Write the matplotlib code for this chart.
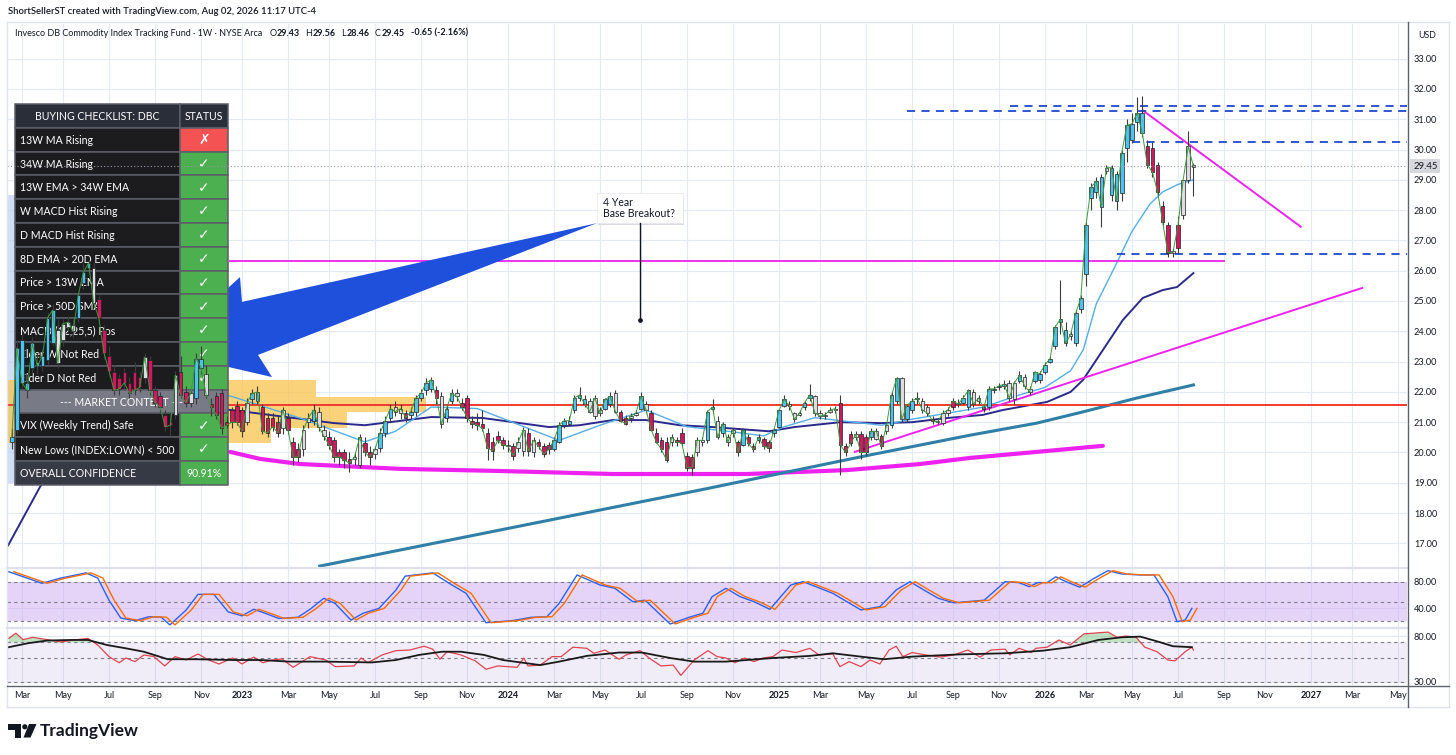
import numpy as np
import pandas as pd
import matplotlib
matplotlib.use('Agg')
import matplotlib.pyplot as plt
from matplotlib import transforms
from matplotlib.patches import Rectangle, Polygon, Circle
from matplotlib.lines import Line2D
from matplotlib.ticker import NullLocator, NullFormatter

plt.rcParams['font.family'] = ['Lato', 'DejaVu Sans']

#%% weekly candles (week 0 = Mon 2023-01-02)
first_week = -45
opens = [
    # 2022
    20.35, 20.75, 23.7, 22.3, 22.8, 23.0, 22.85, 23.05, 23.6, 24.05, 23.7, 24.15, 24.2, 24.45, 25.6,
    26.1, 26.1, 25.05, 24.05, 23.2, 22.65, 22.45, 22.65, 22.3, 22.65, 22.5, 22.45, 23.05, 22.05, 21.85,
    21.25, 21.0, 21.25, 22.65, 22.0, 21.65, 21.8, 23.1, 22.6, 21.6, 21.85, 21.95, 21.0, 21.4, 21.55,
    # 2023
    21.4, 21.0, 21.75, 21.7, 21.5, 21.15, 21.15, 21.0, 20.8, 21.15, 20.35, 20.1, 20.1, 21.0, 21.05,
    21.35, 20.75, 20.5, 20.4, 20.0, 20.0, 19.8, 19.8, 19.6, 20.3, 20.0, 19.95, 20.15, 20.65, 21.15,
    21.5, 21.3, 21.3, 21.25, 21.35, 21.8, 22.05, 22.1, 22.05, 21.85, 21.15, 21.7, 21.95, 21.65, 21.8,
    21.05, 21.0, 20.95, 20.65, 20.35, 20.55, 20.4,
    # 2024
    20.25, 20.2, 20.15, 20.05, 20.65, 20.0, 20.35, 20.2, 20.25, 20.1, 20.35, 20.9, 20.95, 21.4, 21.8,
    21.75, 21.7, 21.2, 21.4, 21.45, 21.6, 21.95, 21.35, 21.15, 21.15, 21.25, 21.45, 21.6, 21.3, 20.65,
    20.4, 20.35, 20.35, 20.4, 20.65, 19.9, 19.85, 20.0, 20.35, 20.4, 21.45, 21.05, 20.65, 20.5, 20.65,
    20.35, 20.25, 20.5, 20.2, 20.4, 20.45, 20.35,
    # 2025
    20.65, 20.85, 21.55, 21.6, 21.3, 21.25, 21.5, 21.8, 21.85, 21.3, 21.2, 21.35, 21.4, 21.65, 20.2,
    20.6, 20.5, 20.6, 20.5, 20.5, 20.45, 20.55, 20.7, 20.9, 21.7, 22.45, 21.1, 21.4, 21.75, 21.7,
    21.5, 21.1, 21.05, 20.97, 21.3, 21.5, 21.6, 21.65, 21.5, 22.0, 21.7, 21.5, 21.5, 22.05, 22.15,
    22.2, 22.3, 21.75, 22.35, 22.5, 22.1, 22.35,
    # 2026
    22.4, 22.65, 23.0, 23.5, 24.3, 24.05, 23.85, 23.6, 24.75, 25.9, 28.4, 28.6, 29.1, 29.3, 28.5,
    29.2, 28.55, 30.05, 30.3, 30.9, 31.2, 30.1, 30.05, 29.5, 28.15, 27.5, 26.6, 26.75, 27.85, 29.0,
    29.43,
]
highs = [
    # 2022
    20.8, 23.7, 23.9, 22.6, 23.8, 23.3, 23.4, 24.6, 24.9, 24.4, 24.4, 24.5, 24.4, 25.3, 26.25,
    26.35, 26.3, 25.2, 24.2, 23.5, 22.9, 22.6, 22.8, 22.5, 23.0, 22.7, 23.3, 23.2, 22.2, 22.0,
    21.4, 21.3, 22.7, 23.2, 22.2, 22.1, 23.3, 23.5, 22.9, 21.8, 22.0, 22.1, 21.2, 21.5, 21.7,
    # 2023
    21.5, 21.8, 22.1, 22.2, 21.6, 21.3, 21.3, 21.2, 21.5, 21.3, 20.5, 20.3, 20.9, 21.3, 21.6,
    21.5, 20.9, 20.7, 20.5, 20.1, 20.1, 20.0, 20.0, 20.6, 20.5, 20.2, 20.2, 20.8, 21.2, 21.6,
    21.7, 21.6, 21.4, 21.5, 21.9, 22.1, 22.45, 22.5, 22.2, 22.0, 21.6, 22.1, 22.1, 21.8, 21.9,
    21.2, 21.3, 21.4, 20.8, 20.5, 20.7, 20.5,
    # 2024
    20.4, 20.3, 20.5, 20.85, 20.8, 20.5, 20.45, 20.3, 20.35, 20.5, 21.0, 21.15, 21.2, 21.9, 22.15,
    21.9, 21.8, 21.9, 21.5, 21.8, 22.0, 22.05, 21.4, 21.25, 21.3, 21.4, 22.0, 21.7, 21.4, 20.8,
    20.5, 20.5, 20.6, 20.5, 20.8, 20.0, 19.95, 20.5, 20.5, 21.4, 21.75, 21.2, 21.0, 20.6, 20.8,
    20.4, 20.8, 20.6, 20.3, 20.6, 20.5, 20.4,
    # 2025
    20.8, 21.45, 21.9, 21.7, 21.35, 21.4, 21.7, 22.25, 21.9, 21.4, 21.35, 21.5, 21.55, 21.9, 20.3,
    20.7, 20.7, 20.7, 20.6, 20.8, 20.8, 20.6, 21.0, 22.0, 22.5, 22.5, 21.6, 21.8, 22.0, 21.8,
    21.6, 21.2, 21.15, 21.4, 21.5, 21.8, 21.75, 21.9, 22.1, 22.1, 21.9, 21.6, 22.2, 22.2, 22.3,
    22.4, 22.4, 22.35, 22.7, 22.6, 22.2, 22.7,
    # 2026
    22.7, 23.0, 23.2, 24.2, 25.7, 24.3, 24.0, 24.7, 25.2, 27.6, 28.9, 29.1, 29.2, 29.5, 29.5,
    29.3, 30.0, 31.0, 31.2, 31.73, 31.76, 30.3, 30.25, 29.6, 28.3, 27.6, 26.75, 27.8, 29.0, 30.6,
    29.56,
]
lows = [
    # 2022
    20.1, 20.6, 22.1, 21.8, 22.6, 22.6, 22.7, 22.9, 23.5, 22.8, 23.5, 24.0, 23.8, 24.3, 25.4,
    25.9, 24.8, 24.3, 23.1, 22.5, 21.9, 21.9, 22.1, 21.8, 21.9, 22.0, 22.3, 21.9, 21.5, 21.3,
    20.7, 20.55, 21.1, 21.8, 21.5, 21.5, 21.6, 22.6, 21.8, 21.2, 21.1, 20.6, 20.8, 20.8, 20.9,
    # 2023
    20.5, 20.9, 21.6, 21.6, 20.6, 20.5, 20.7, 20.5, 20.6, 20.6, 19.6, 19.7, 19.9, 20.8, 20.9,
    20.7, 20.4, 20.1, 19.7, 19.6, 19.5, 19.35, 19.6, 19.5, 19.9, 19.6, 19.8, 20.0, 20.5, 21.0,
    21.2, 21.1, 21.0, 21.1, 21.2, 21.7, 21.9, 22.0, 21.6, 20.8, 21.0, 21.6, 21.7, 21.4, 21.0,
    20.8, 20.75, 20.7, 19.75, 19.75, 20.3, 20.1,
    # 2024
    20.0, 19.75, 20.0, 19.9, 19.9, 19.85, 20.1, 19.85, 19.95, 20.05, 20.3, 20.8, 20.9, 21.3, 21.7,
    21.5, 21.3, 21.1, 21.2, 21.4, 21.5, 21.3, 21.0, 20.9, 21.0, 21.2, 21.4, 21.3, 20.7, 20.3,
    20.0, 19.7, 20.2, 20.2, 20.2, 19.4, 19.25, 19.9, 20.2, 20.3, 21.3, 20.45, 20.5, 20.2, 20.5,
    19.9, 20.2, 20.2, 20.0, 20.3, 20.1, 20.0,
    # 2025
    20.5, 20.8, 21.5, 21.4, 21.0, 21.2, 21.4, 21.7, 21.2, 21.1, 21.1, 21.3, 21.3, 19.25, 19.9,
    20.2, 20.4, 19.8, 19.9, 20.4, 20.4, 20.1, 20.6, 20.8, 21.6, 21.0, 21.0, 21.3, 21.6, 21.3,
    21.2, 20.95, 20.95, 20.9, 21.2, 21.4, 21.5, 21.6, 21.4, 21.5, 21.6, 21.35, 21.4, 21.95, 22.05,
    22.1, 21.7, 21.6, 22.3, 22.1, 21.9, 22.3,
    # 2026
    22.3, 22.6, 22.95, 23.4, 23.9, 23.5, 23.7, 23.5, 24.6, 25.5, 28.0, 28.4, 27.45, 29.2, 28.3,
    28.0, 28.3, 29.6, 30.2, 30.6, 30.4, 29.4, 29.1, 28.5, 27.5, 26.45, 26.45, 26.6, 27.7, 28.9,
    28.46,
]
closes = [
    # 2022
    20.5, 23.45, 22.3, 22.05, 23.6, 22.85, 23.2, 24.45, 24.7, 22.95, 24.25, 24.3, 24.0, 25.2, 25.95,
    26.25, 24.95, 24.45, 23.3, 22.7, 22.05, 22.1, 22.3, 21.95, 22.05, 22.15, 23.15, 22.05, 21.65, 21.5,
    20.85, 20.9, 22.55, 21.9, 21.65, 21.95, 23.1, 22.8, 21.9, 21.5, 21.25, 20.8, 20.9, 21.0, 21.0,
    # 2023
    20.7, 21.65, 21.95, 22.0, 20.7, 20.65, 20.85, 20.65, 21.4, 20.75, 19.85, 19.85, 20.75, 21.15, 21.4,
    20.85, 20.55, 20.25, 19.85, 19.85, 19.75, 19.65, 19.85, 20.5, 20.0, 19.85, 20.1, 20.65, 21.05, 21.45,
    21.35, 21.45, 21.15, 21.35, 21.8, 21.95, 22.3, 22.4, 21.8, 20.95, 21.45, 21.95, 21.85, 21.5, 21.15,
    20.95, 20.9, 20.8, 20.15, 20.05, 20.4, 20.25,
    # 2024
    20.2, 19.9, 20.35, 20.75, 20.05, 20.4, 20.2, 19.95, 20.1, 20.4, 20.9, 21.05, 21.05, 21.8, 21.9,
    21.6, 21.35, 21.8, 21.3, 21.75, 21.85, 21.35, 21.05, 20.95, 21.2, 21.3, 21.85, 21.4, 20.75, 20.35,
    20.1, 19.75, 20.5, 20.35, 20.3, 19.5, 19.5, 20.4, 20.4, 21.35, 21.5, 20.5, 20.95, 20.35, 20.75,
    20.0, 20.75, 20.3, 20.1, 20.5, 20.2, 20.15,
    # 2025
    20.75, 21.4, 21.75, 21.55, 21.1, 21.3, 21.65, 21.9, 21.3, 21.2, 21.25, 21.4, 21.45, 20.25, 20.0,
    20.3, 20.6, 20.0, 20.0, 20.7, 20.7, 20.2, 20.9, 21.9, 22.45, 21.1, 21.55, 21.7, 21.8, 21.4,
    21.3, 21.05, 21.0, 21.3, 21.4, 21.7, 21.6, 21.8, 22.05, 21.6, 21.8, 21.45, 22.1, 22.1, 22.2,
    22.25, 21.8, 22.3, 22.55, 22.2, 22.0, 22.65,
    # 2026
    22.6, 22.9, 23.1, 24.15, 24.4, 23.6, 23.9, 24.6, 25.1, 27.5, 28.75, 28.95, 28.1, 29.4, 29.4,
    28.3, 29.9, 30.8, 30.85, 31.2, 30.55, 29.5, 29.25, 28.6, 27.6, 26.6, 26.6, 27.5, 29.0, 30.1,
    29.45,
]
# impulse colour of each candle: c = cyan, m = magenta, w = neutral
impulse = ("ccccccccc" "wwww" "ccc" "w" "mmmmmmmmm" "w" "mmmmm" "w" "mm" "w" "cc" "w" "mmmmmm"
           "mwccmmmmwm" "mmwwcwwmmm" "mmwwmmwccc" "wwmcccccmw" "ccwmmmmmmm" "mm"
           "wmwwmwmmmc" "ccccccwwwc" "cwmmwwcwmm" "mmwmmmmwwc" "cwcwwmcmmc" "mm"
           "cccwwwccww" "wwwmmmwmmc" "wmwccwcccw" "wmwwwmwccw" "wmccccwwcw" "wc"
           "ccccccwccc" "cccwcccccc" "cmmmmmwmww" "w")

#%% moving averages (week, price)
fast_ma_w = [-6, -2, 12, 24, 30, 37, 46, 62, 70, 79, 87, 95, 102, 106, 112, 117, 125, 131, 138, 145,
             152, 157, 162, 164.5, 167, 171, 174, 177.5, 180, 183, 186]
fast_ma = [22.0, 21.85, 21.1, 20.35, 20.7, 21.5, 21.45, 20.4, 20.9, 21.4, 20.85, 20.7, 20.55, 20.85,
           21.15, 21.05, 20.9, 21.1, 21.3, 21.5, 21.9, 22.15, 22.7, 23.4, 24.9, 26.25, 27.3, 28.2,
           28.6, 28.85, 29.0]
slow_ma_w = [-45.7, -39.5, -35, -28, -15, -2, 18, 24, 37, 47, 60, 66, 72.5, 79, 85.6, 92, 103, 108,
             117, 125, 131, 138, 144.8, 148.7, 157.4, 162, 164.4, 168.3, 172.2, 176.1, 180, 182.8, 186]
slow_ma = [16.94, 18.86, 20.0, 21.0, 21.6, 21.4, 20.97, 20.9, 21.17, 21.14, 20.84, 20.9, 21.07, 21.07,
           20.9, 20.84, 20.7, 20.84, 21.0, 20.97, 21.0, 21.14, 21.24, 21.4, 21.67, 22.0, 22.39, 23.38,
           24.37, 25.1, 25.36, 25.46, 25.92]
long_ma_w = [15.2, 50.4, 89.5, 122.8, 142.3, 155.4, 164.4, 175, 186]
long_ma = [16.25, 17.44, 18.76, 19.92, 20.57, 20.97, 21.34, 21.8, 22.23]

# drawn base curve
cup_w = [-2.3, 3.5, 11.3, 30.9, 50.4, 72.5, 98.7, 118.3, 132.6, 142.3, 155.4, 168.3]
cup = [20.02, 19.79, 19.62, 19.46, 19.39, 19.29, 19.29, 19.42, 19.62, 19.82, 20.02, 20.22]

# visible range volume profile rows (price low, price high, length in weeks)
vp_low = [21.83, 21.33, 20.81, 20.31]
vp_high = [22.39, 21.83, 21.33, 20.81]
vp_len = [60.4, 81.9, 66.4, 51.6]

#%% Stoch RSI %K
stoch_w = [-45.6, -39.1, -35.6, -30.5, -28.2, -26, -23.7, -20.9, -18.2, -15.8, -14.1, -10.9, -8.6,
           -5.5, -2.7, 0, 2.3, 4.5, 7.2, 10.9, 13.3, 16, 18.2, 21.3, 23.7, 26.8, 30.1, 31.9, 37.3,
           40.5, 43.8, 47.7, 52.8, 56.5, 59.6, 62, 65.5, 70, 72.9, 76.4, 78.8, 83.7, 87.4, 90.1, 91.9,
           94.6, 97.4, 100.1, 103.2, 107.3, 109.7, 115.5, 121, 124.7, 127.9, 130.6, 133.3, 136.1,
           139.2, 145.1, 149.2, 151.9, 153.9, 155.6, 157.4, 159.1, 161.1, 163.8, 166.6, 169.3, 172,
           175.6, 178.3, 181, 182.8, 184.4, 185.7]
stoch_k = [95.8, 78, 85.7, 94, 86, 52, 24.6, 20.5, 26.6, 26, 14, 37, 61, 61, 34, 28, 38, 32, 24, 25.7,
           38, 55, 47, 21.5, 32, 39.5, 67.7, 89, 94, 78, 62.6, 17.4, 20.5, 25.7, 26.6, 47, 90.8, 75.4,
           70.3, 49.7, 52, 15.4, 25.7, 32, 57.4, 70.3, 57.4, 49.7, 38, 75.4, 80.5, 62.6, 37, 42, 67.7,
           80.5, 67.7, 55, 48, 52, 80.5, 79, 72.8, 79, 79, 88, 80.5, 72, 85.7, 97.4, 92.3, 90.8, 90.8,
           57.4, 19, 21.5, 39.5]

#%% RSI and its MA
rsi_w = [-45.6, -44.2, -42.8, -40.9, -38.1, -35.4, -32.8, -30.1, -28.2, -26, -24, -22.7, -20.9,
         -19.2, -17.2, -15.1, -13.1, -10.9, -8.6, -6.5, -4.5, -1.8, 0, 2.3, 4.1, 5.9, 7.8, 10, 13.3,
         16.4, 18.2, 21.9, 23.3, 24.6, 27.4, 30.1, 32.8, 35.6, 37.3, 38.7, 40.1, 42.8, 45.6, 47.7, 50,
         53.8, 55.1, 55.9, 58.3, 60.6, 62.4, 64.7, 67.4, 68.8, 71, 73.7, 75.1, 77.8, 79.6, 81.9, 84.3,
         85.8, 88.4, 91.1, 92.9, 94.6, 96.4, 98.3, 100.1, 101.9, 103.8, 105.6, 108.3, 111, 112.8,
         115.5, 116.9, 118.7, 121, 122.8, 124.7, 126.5, 127.9, 129.2, 131, 133.7, 136.5, 139.2,
         141.9, 144.3, 146.4, 149.2, 150.1, 151.9, 154.3, 155.2, 157.4, 159.7, 161.9, 164.6, 169.3,
         171.1, 172.8, 174.8, 176.5, 178.9, 181, 182.4, 184.4, 185.7, 186]
rsi = [76, 85, 74, 77.8, 74, 70.5, 73.5, 76, 66, 51.5, 45.2, 50, 46.3, 53.4, 51.5, 42.2, 51.5, 47.9,
       54.5, 47.9, 44, 50, 44, 51, 45.2, 47.9, 49, 41, 51.5, 47.9, 41.6, 42.2, 50, 45.2, 53.4, 58.5,
       59.3, 64.3, 60.4, 48.7, 57.2, 53.4, 47.1, 39.3, 42.2, 41, 50, 42.2, 43, 51.5, 51.5, 63, 61.5,
       55.3, 59.3, 48.7, 53.4, 58.5, 50, 42.2, 43, 34.5, 47.9, 58.5, 51.5, 50, 45.2, 50, 46.3, 50,
       51.5, 59.3, 56.2, 61.5, 53.4, 54.5, 41.6, 46.3, 41.6, 47.9, 44, 59.3, 64.3, 51.5, 56.2, 53.4,
       51, 53.4, 59.3, 51, 59.3, 60.4, 53.4, 61.5, 56.2, 61.5, 63, 73.5, 66, 83.7, 87, 77.8, 80, 77.8,
       63, 57.2, 47.9, 47.1, 57.2, 63, 59.3]
rsi_ma_w = [-45.6, -41.8, -38.1, -33.6, -30.1, -26.4, -22.7, -19.2, -14.5, -9, -1.8, 3.7, 9.2, 16.4,
            25.4, 30.1, 34.6, 39.1, 42.8, 47.3, 51, 58.3, 62, 67.4, 73.7, 78.2, 83.7, 88.4, 94.6,
            103.8, 111, 115.5, 121, 125.5, 131, 140.2, 149.2, 156.6, 161.9, 167.4, 172, 175.6, 179.3,
            182, 185.7]
rsi_ma = [63, 68.6, 72.6, 73.5, 73.5, 66, 61.5, 57.2, 48.7, 48.7, 47.9, 47.9, 46.3, 46.3, 45.5, 47.9,
          53.4, 57.2, 57.2, 53.4, 47.9, 43, 46.3, 52.3, 56.2, 56.2, 50, 46.3, 46.3, 50, 52.3, 55.3,
          51.5, 48.7, 51.5, 54, 55.3, 58.5, 63, 73.5, 77.8, 79, 70.5, 64.3, 63]

#%% checklist table
checklist = ['13W MA Rising', '34W MA Rising', '13W EMA > 34W EMA', 'W MACD Hist Rising',
             'D MACD Hist Rising', '8D EMA > 20D EMA', 'Price > 13W EMA', 'Price > 50D SMA',
             'MACD (12,25,5) Pos', 'Elder W Not Red', 'Elder D Not Red']
checklist_ok = [False, True, True, True, True, True, True, True, True, True, True]
context = ['VIX (Weekly Trend) Safe', 'New Lows (INDEX:LOWN) < 500']
context_ok = [True, True]
confidence = '90.91%'
last_price = 29.45

#%% figure
W, H = 1456, 755
fig = plt.figure(figsize=(W / 100, H / 100), dpi=100)
fig.patch.set_facecolor('white')
px = transforms.Affine2D().scale(1 / W, -1 / H).translate(0, 1) + fig.transFigure


def box(x0, y0, x1, y1):
    return [x0 / W, 1 - y1 / H, (x1 - x0) / W, (y1 - y0) / H]


ax = fig.add_axes(box(7, 24, 1407, 567))
ax_st = fig.add_axes(box(7, 568, 1407, 627))
ax_rsi = fig.add_axes(box(7, 629, 1407, 685))

base = pd.Timestamp('2023-01-02')
tick_w, tick_lab = [], []
for m in pd.date_range('2022-03-01', '2027-05-01', freq='2MS'):
    monday = m + pd.Timedelta(days=(7 - m.weekday()) % 7)
    tick_w.append((monday - base).days / 7)
    tick_lab.append(str(m.year) if m.month == 1 else m.strftime('%b'))

txt = '#131722'
grid_c = '#e3eaf4'
for a in (ax, ax_st, ax_rsi):
    a.set_xlim(-45.94, 227.76)
    a.set_xticks(tick_w)
    a.set_axisbelow(True)
    a.grid(True, color=grid_c, lw=0.8)
    for s in a.spines.values():
        s.set_visible(False)
    a.yaxis.tick_right()
    a.tick_params(length=0, labelsize=6.6, labelcolor=txt, pad=5)
    a.set_facecolor('none')
ax.tick_params(labelbottom=False)
ax_st.tick_params(labelbottom=False)

# price pane
ax.set_ylim(16.221, 34.142)
ax.set_yticks(range(17, 34))
ax.set_yticklabels([f'{v:.2f}' for v in range(17, 34)])

ax.add_patch(Rectangle((-45.94, 19.0), 2.3, 9.5, fc='#bcd2f2', alpha=0.7, lw=0, zorder=1))
for lo, hi, ln in zip(vp_low, vp_high, vp_len):
    ax.add_patch(Rectangle((-45.94, lo), ln, hi - lo, fc='#f9c44e', alpha=0.75, lw=0, zorder=1))

ax.plot(cup_w, cup, color='#ee22ee', lw=3.0, solid_capstyle='round', zorder=2.5)
ax.plot(long_ma_w, long_ma, color='#2f7fa6', lw=2.2, zorder=2.6)
ax.plot(slow_ma_w, slow_ma, color='#2b2a8a', lw=1.4, zorder=2.7)
ax.plot(fast_ma_w, fast_ma, color='#55aee6', lw=1.0, zorder=2.8)

# drawings
ax.axhline(21.57, color='#f03a2e', lw=1.4, zorder=2.9)
ax.plot([-2.4, 192.0], [26.32, 26.32], color='#ee22ee', lw=1.3, zorder=3)
ax.plot([119.8, 219.0], [20.02, 25.43], color='#ee22ee', lw=1.4, zorder=3)
ax.plot([176.1, 207.0], [31.29, 27.45], color='#ee22ee', lw=1.4, zorder=3)
for lvl, start in zip([31.45, 31.27, 30.26, 26.56], [150.1, 130.0, 174.0, 171.1]):
    ax.plot([start, 227.76], [lvl, lvl], color='#1f48d0', lw=1.3, dashes=(4.5, 3.5), zorder=3)

arrow = [(69.4, 27.57), (0.0, 24.97), (-0.39, 25.79), (-16.2, 23.35), (5.87, 22.49), (3.13, 23.22)]
ax.add_patch(Polygon(arrow, closed=True, fc='#1f50dc', ec='none', zorder=4))

# checklist table (pixel coordinates)
tx0, tx1, tx2 = 15, 180, 228
ty0, rh = 104, 23.8
edge = '#5b5e68'


def cell(x0, x1, row, fc):
    ax.add_patch(Rectangle((x0, ty0 + row * rh), x1 - x0, rh, transform=px, fc=fc, ec=edge,
                           lw=1.1, zorder=5))


def label(x, row, s, ha='left', color='white', size=7.6, weight='normal'):
    ax.text(x, ty0 + row * rh + rh / 2 + 0.5, s, transform=px, ha=ha, va='center', color=color,
            fontsize=size, fontweight=weight, zorder=5.5)


dark, head, green, red = '#1c1c1f', '#2a2e39', '#4caf50', '#f55353'
cell(tx0, tx1, 0, head)
cell(tx1, tx2, 0, head)
label((tx0 + tx1) / 2, 0, 'BUYING CHECKLIST: DBC', ha='center')
label((tx1 + tx2) / 2, 0, 'STATUS', ha='center')
row = 1
for name, ok in zip(checklist, checklist_ok):
    cell(tx0, tx1, row, dark)
    cell(tx1, tx2, row, green if ok else red)
    label(tx0 + 5, row, name)
    label((tx1 + tx2) / 2, row, '✓' if ok else '✗', ha='center', size=10, weight='bold')
    row += 1
cell(tx0, tx2, row, '#787b86')
label((tx0 + tx2) / 2, row, '--- MARKET CONTEXT ---', ha='center')
row += 1
for name, ok in zip(context, context_ok):
    cell(tx0, tx1, row, dark)
    cell(tx1, tx2, row, green if ok else red)
    label(tx0 + 5, row, name)
    label((tx1 + tx2) / 2, row, '✓' if ok else '✗', ha='center', size=10, weight='bold')
    row += 1
cell(tx0, tx1, row, '#363a45')
cell(tx1, tx2, row, green)
label(tx0 + 5, row, 'OVERALL CONFIDENCE')
label((tx1 + tx2) / 2, row, confidence, ha='center')

# candles
x = first_week + np.arange(len(closes))
o, hgh, lw_, c = (np.array(v, dtype=float) for v in (opens, highs, lows, closes))
col_map = {'c': '#4cc3ef', 'm': '#d3175f', 'w': '#dcdde2'}
body_lo = np.minimum(o, c)
body_h = np.maximum(np.abs(c - o), 0.05)
ax.vlines(x, lw_, hgh, color='#3c3c3c', lw=0.8, zorder=6)
ax.bar(x, body_h, bottom=body_lo, width=0.7, color=[col_map[k] for k in impulse[:len(x)]],
       edgecolor='#202020', linewidth=0.5, zorder=6.2)
ax.plot(x, c, color='#3d9a3d', lw=0.7, zorder=6.4)

ax.axhline(last_price, color='#9598a1', lw=0.8, ls=(0, (1, 2)), zorder=6.5)

# callout
ax.add_patch(Rectangle((69.6, 27.52), 16.8, 1.0, fc='#d8dbe3', ec='none', zorder=7.9))
ax.add_patch(Rectangle((69.4, 27.57), 16.8, 1.0, fc='white', ec='#e6e8ee', lw=0.5, zorder=8))
ax.text(70.5, 28.07, '4 Year\nBase Breakout?', fontsize=7.6, color=txt, va='center', ha='left',
        linespacing=1.05, zorder=8.1)
ax.plot([77.8, 77.8], [27.57, 24.37], color=txt, lw=1.0, zorder=8)
ax.plot([77.8], [24.37], 'o', color=txt, ms=2.4, zorder=8)

ax.annotate(f'{last_price:.2f}', xy=(1, last_price), xycoords=('axes fraction', 'data'),
            xytext=(4.5, 0), textcoords='offset points', ha='left', va='center', fontsize=6.8,
            color=txt, annotation_clip=False,
            bbox=dict(boxstyle='square,pad=0.3', fc='#d6d8de', ec='none'), zorder=10)

# stoch RSI pane
ax_st.set_ylim(10.8, 101.5)
ax_st.set_yticks([80, 40])
ax_st.set_yticklabels(['80.00', '40.00'])
ax_st.axhspan(20, 80, color='#c9a0f0', alpha=0.45, lw=0, zorder=0.6)
for lvl in (80, 50, 20):
    ax_st.axhline(lvl, color='#7b7e89', lw=0.8, ls=(0, (3, 3)), zorder=1)
ax_st.plot(stoch_w, stoch_k, color='#2962ff', lw=1.0, zorder=3)
ax_st.plot(np.array(stoch_w) + 1.0, stoch_k, color='#ff6d00', lw=1.0, zorder=3.1)

# RSI pane
ax_rsi.set_yscale('log')
ax_rsi.set_ylim(28.1, 92.9)
ax_rsi.set_yticks([80, 30])
ax_rsi.set_yticklabels(['80.00', '30.00'])
ax_rsi.yaxis.set_minor_locator(NullLocator())
ax_rsi.yaxis.set_minor_formatter(NullFormatter())
ax_rsi.axhspan(30, 70, color='#7e57c2', alpha=0.1, lw=0, zorder=0.6)
for lvl in (70, 50, 30):
    ax_rsi.axhline(lvl, color='#7b7e89', lw=0.8, ls=(0, (3, 3)), zorder=1)
rw, rv = np.array(rsi_w), np.array(rsi, dtype=float)
ax_rsi.fill_between(rw, rv, 70, where=rv > 70, interpolate=True, color='#4caf50', alpha=0.35,
                    lw=0, zorder=1.5)
ax_rsi.plot(rsi_w, rsi, color='#e0454f', lw=0.9, zorder=3)
ax_rsi.plot(rsi_ma_w, rsi_ma, color='#1a1a1a', lw=1.3, zorder=3.1)
ax_rsi.set_xticklabels(tick_lab)
ax_rsi.tick_params(axis='x', pad=4.5, labelsize=6.6, labelcolor=txt)
for t, s in zip(ax_rsi.get_xticklabels(), tick_lab):
    if s.isdigit():
        t.set_fontweight('bold')

# frame and separators
for (x0, y0, x1, y1, col, lw) in [
        (7, 22, 1449, 22, '#e0e3eb', 1.0), (7, 707, 1449, 707, '#e0e3eb', 1.0),
        (7, 22, 7, 707, '#e0e3eb', 1.0), (1449, 22, 1449, 707, '#e0e3eb', 1.0),
        (7, 567.5, 1407, 567.5, '#dfe2ea', 1.6), (7, 628, 1407, 628, '#dfe2ea', 1.6),
        (7, 685.5, 1449, 685.5, '#5f626d', 1.0), (1407.5, 22, 1407.5, 707, '#5f626d', 1.0)]:
    fig.add_artist(Line2D([x0, x1], [y0, y1], transform=px, color=col, lw=lw))

fig.text(8 / W, 1 - 12 / H, 'ShortSellerST created with TradingView.com, Aug 02, 2026 11:17 UTC-4',
         fontsize=6.8, color=txt, va='center', fontweight='semibold')
fig.text(1418 / W, 1 - 35 / H, 'USD', fontsize=6.3, color=txt, va='center')

prev = ax.text(15, 33, 'Invesco DB Commodity Index Tracking Fund · 1W · NYSE Arca', transform=px,
               fontsize=6.5, color=txt, va='center', zorder=10)
for s, wt, gap in [('O', 'normal', 5), ('29.43', 'bold', 0.3), ('H', 'normal', 4),
                   ('29.56', 'bold', 0.3), ('L', 'normal', 4), ('28.46', 'bold', 0.3),
                   ('C', 'normal', 4), ('29.45', 'bold', 0.3), ('-0.65 (-2.16%)', 'bold', 5)]:
    prev = ax.annotate(s, xy=(1, 0.5), xycoords=prev, xytext=(gap, 0), textcoords='offset points',
                       ha='left', va='center', fontsize=6.5, fontweight=wt, color=txt,
                       annotation_clip=False, zorder=10)

# TradingView logo
fig.add_artist(Polygon([(8, 724), (21, 724), (21, 737.5), (14.5, 737.5), (14.5, 729.5), (8, 729.5)],
                       transform=px, fc=txt, ec='none'))
fig.add_artist(Circle((24.8, 726.8), 2.6, transform=px, fc=txt, ec='none'))
fig.add_artist(Polygon([(29, 724), (36.5, 724), (30.5, 737.5), (23.5, 737.5)],
                       transform=px, fc=txt, ec='none'))
fig.text(40 / W, 1 - 731 / H, 'TradingView', fontsize=12.5, fontweight='bold', color=txt,
         va='center')

fig.savefig('out.png', dpi=100, facecolor='white')
